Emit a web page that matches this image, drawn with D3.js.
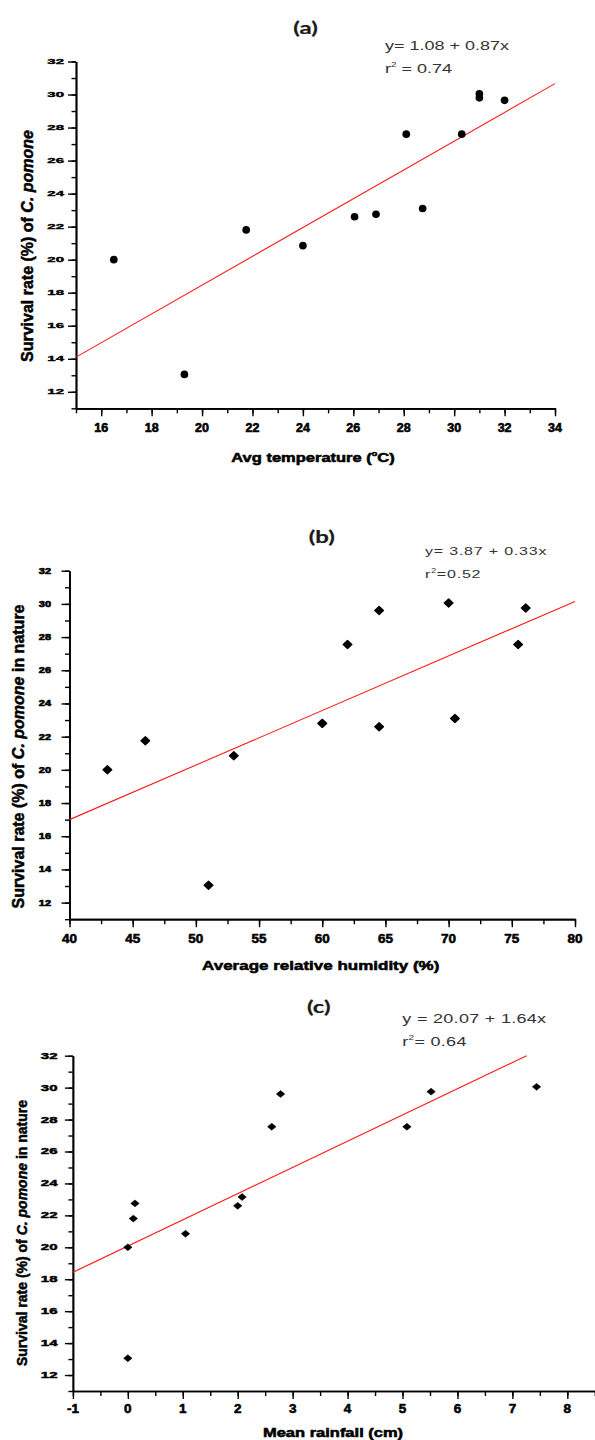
<!DOCTYPE html>
<html>
<head>
<meta charset="utf-8">
<script src="https://cdn.jsdelivr.net/npm/d3@7"></script>
<style>
  html, body { margin: 0; padding: 0; background: #fff; }
  svg { display: block; }
</style>
</head>
<body>
<svg id="chart" width="595" height="1440"></svg>
<script>
// ---------------- DATA ----------------
// (a) survival vs average temperature
const tempX = [16.5, 19.3, 21.75, 24.0, 26.05, 26.9, 28.1, 28.75, 30.3, 31.0, 31.0, 32.0];
const tempY = [20.0, 13.05, 21.8, 20.85, 22.6, 22.75, 27.6, 23.1, 27.6, 29.8, 30.05, 29.65];
// (b) survival vs average relative humidity
const humX = [43, 46, 51, 53, 60, 62, 64.5, 64.5, 70, 70.5, 75.5, 76.1];
const humY = [20.0, 21.75, 13.05, 20.85, 22.8, 27.55, 22.6, 29.6, 30.05, 23.1, 27.55, 29.75];
// (c) survival vs mean rainfall
const rainX = [0, 0, 0.1, 0.13, 1.05, 2.0, 2.08, 2.62, 2.78, 5.08, 5.52, 7.44];
const rainY = [20.0, 13.05, 21.8, 22.75, 20.85, 22.6, 23.15, 27.55, 29.6, 27.55, 29.75, 30.05];

// fitted regression line end points
const fitTempX = [15, 34],   fitTempY = [14.1, 30.66];
const fitHumX  = [40, 80],   fitHumY  = [17.0, 30.15];
const fitRainX = [-1, 7.26], fitRainY = [18.43, 32.0];

// tick labels
const survivalTicks = [12, 14, 16, 18, 20, 22, 24, 26, 28, 30, 32];
const tempTicks = [16, 18, 20, 22, 24, 26, 28, 30, 32, 34];
const humTicks  = [40, 45, 50, 55, 60, 65, 70, 75, 80];
const rainTicks = [-1, 0, 1, 2, 3, 4, 5, 6, 7, 8];

// texts
const panelTitles = ["(a)", "(b)", "(c)"];
const equations = ["y= 1.08 + 0.87x", "y=  3.87 + 0.33x", "y = 20.07 + 1.64x"];
const r2Texts = [" = 0.74", "=0.52", "= 0.64"];
const xTitles = ["Avg temperature (", "Average relative humidity (%)", "Mean rainfall (cm)"];
const yTitleStart = "Survival rate (%) of ";
const yTitleSpecies = "C. pomone";
const yTitleEnds = ["", " in nature", " in nature"];

// ---------------- DRAWING ----------------
const FONT = "'Liberation Sans', Arial, Helvetica, sans-serif";
const TITLE_FONT = "Lato, 'Open Sans', sans-serif";
const svg = d3.select("#chart");

function diamondType(hw, hh) {
  return { draw(ctx) { ctx.moveTo(0, -hh); ctx.lineTo(hw, 0); ctx.lineTo(0, hh); ctx.lineTo(-hw, 0); ctx.closePath(); } };
}

function sqText(parent, x, y, size, k, anchor, weight, fill, family) {
  return parent.append("text")
    .attr("transform", `translate(${x},${y}) scale(1,${k})`)
    .attr("text-anchor", anchor)
    .attr("font-family", family || FONT)
    .attr("font-size", size)
    .attr("font-weight", weight)
    .attr("fill", fill);
}
function heavy(sel, w) {
  return sel.attr("stroke", "#000").attr("stroke-width", w).attr("stroke-linejoin", "round");
}

const panels = [
  { xs: tempX, ys: tempY, fx: fitTempX, fy: fitTempY, xDomain: [15, 34], xTicks: tempTicks, xMinor: 1,
    xRange: [76, 555], yRange: [408.3, 61.5],
    symbol: d3.symbolCircle, symSize: 46, symStroke: 0,
    titlePos: [305.5, 34], eqPos: [385, 50], r2Pos: [385, 73.3], eqSize: 18, eqSpacing: 0,
    yLabR: 64, yLabSize: 15, yLabK: 0.5,
    xLabBase: 431.5, xLabSize: 12.5, xLabK: 1.0,
    xTitleX: 313, xTitleBase: 462, xTitleSize: 16.5, xTitleK: 0.75,
    yTitleX: 27, yTitleY: 246, yTitleSize: 16 },
  { xs: humX, ys: humY, fx: fitHumX, fy: fitHumY, xDomain: [40, 80], xTicks: humTicks, xMinor: 2.5,
    xRange: [69.5, 575], yRange: [919.2, 570.7],
    symbol: diamondType(4.3, 4.0), symSize: 0, symStroke: 1.4,
    titlePos: [321.7, 543], eqPos: [425, 555], r2Pos: [425, 578.3], eqSize: 16, eqSpacing: 0.8,
    yLabR: 51, yLabSize: 11, yLabK: 0.75,
    xLabBase: 942.7, xLabSize: 13.5, xLabK: 0.9,
    xTitleX: 320.7, xTitleBase: 970, xTitleSize: 17, xTitleK: 0.75,
    yTitleX: 18.3, yTitleY: 756.5, yTitleSize: 16 },
  { xs: rainX, ys: rainY, fx: fitRainX, fy: fitRainY, xDomain: [-1, 8.5], xTicks: rainTicks, xMinor: 0.5,
    xRange: [72.9, 594.8], yRange: [1391, 1055.7],
    symbol: diamondType(4.2, 3.4), symSize: 0, symStroke: 0.6,
    titlePos: [318.7, 1013], eqPos: [402.3, 1023.3], r2Pos: [402.3, 1046], eqSize: 18, eqSpacing: 0.3,
    yLabR: 57.5, yLabSize: 15, yLabK: 0.55,
    xLabBase: 1412.7, xLabSize: 13.5, xLabK: 1.0,
    xTitleX: 333, xTitleBase: 1437, xTitleSize: 16.5, xTitleK: 0.75,
    yTitleX: 21.7, yTitleY: 1233, yTitleSize: 14 }
];

panels.forEach((p, i) => {
  const g = svg.append("g");
  const x = d3.scaleLinear().domain(p.xDomain).range(p.xRange);
  const y = d3.scaleLinear().domain([11, 32]).range(p.yRange);

  // minor ticks
  const xMinorVals = d3.range(p.xDomain[0], p.xDomain[1] + 1e-9, p.xMinor);
  const yMinorVals = d3.range(11, 32 + 1e-9, 1);
  const gxMinor = g.append("g").attr("transform", `translate(0,${p.yRange[0]})`)
    .call(d3.axisBottom(x).tickValues(xMinorVals).tickFormat("").tickSize(5).tickSizeOuter(0));
  const gyMinor = g.append("g").attr("transform", `translate(${p.xRange[0]},0)`)
    .call(d3.axisLeft(y).tickValues(yMinorVals).tickFormat("").tickSize(4.5).tickSizeOuter(0));
  // major ticks
  const gx = g.append("g").attr("transform", `translate(0,${p.yRange[0]})`)
    .call(d3.axisBottom(x).tickValues(p.xTicks).tickFormat("").tickSize(8).tickSizeOuter(0));
  const gy = g.append("g").attr("transform", `translate(${p.xRange[0]},0)`)
    .call(d3.axisLeft(y).tickValues(survivalTicks).tickFormat("").tickSize(8).tickSizeOuter(0));
  [gxMinor, gyMinor, gx, gy].forEach(a => {
    a.selectAll("line").attr("stroke", "#000").attr("stroke-width", 1.4);
    a.select(".domain").attr("stroke", "#000").attr("stroke-width", 1.7);
  });

  // tick labels
  p.xTicks.forEach(v => {
    heavy(sqText(g, x(v), p.xLabBase, p.xLabSize, p.xLabK, "middle", "bold", "#000"), 0.6).text(v);
  });
  survivalTicks.forEach(v => {
    const h = 0.716 * p.yLabSize * p.yLabK;
    heavy(sqText(g, p.yLabR, y(v) + h / 2, p.yLabSize, p.yLabK, "end", "bold", "#000"), 0.8).text(v);
  });

  // fit line
  const fitPts = p.fx.map((d, j) => [d, p.fy[j]]);
  g.append("path").datum(fitPts)
    .attr("d", d3.line().x(d => x(d[0])).y(d => y(d[1])))
    .attr("fill", "none").attr("stroke", "#ff1a1a").attr("stroke-width", 1.1);

  // points
  const pts = p.xs.map((d, j) => [d, p.ys[j]]);
  g.selectAll("path.pt").data(pts).enter().append("path").attr("class", "pt")
    .attr("transform", d => `translate(${x(d[0])},${y(d[1])})`)
    .attr("d", d3.symbol().type(p.symbol).size(p.symSize || 64))
    .attr("fill", "#000")
    .attr("stroke", p.symStroke ? "#000" : "none")
    .attr("stroke-width", p.symStroke)
    .attr("stroke-linejoin", "round");

  // panel title
  heavy(sqText(g, p.titlePos[0], p.titlePos[1], 24, 0.72, "middle", "bold", "#1c1a16", TITLE_FONT), 0.3)
    .attr("stroke", "#1c1a16").text(panelTitles[i]);

  // equation + r^2
  sqText(g, p.eqPos[0], p.eqPos[1], p.eqSize, 0.72, "start", "normal", "#333")
    .attr("letter-spacing", p.eqSpacing).text(equations[i]);
  const r2 = sqText(g, p.r2Pos[0], p.r2Pos[1], p.eqSize, 0.72, "start", "normal", "#333")
    .attr("letter-spacing", p.eqSpacing);
  r2.append("tspan").text("r");
  r2.append("tspan").attr("font-size", p.eqSize * 0.55).attr("dy", -p.eqSize * 0.45).text("2");
  r2.append("tspan").attr("dy", p.eqSize * 0.45).text(r2Texts[i]);

  // x title
  const xt = heavy(sqText(g, p.xTitleX, p.xTitleBase, p.xTitleSize, p.xTitleK, "middle", "bold", "#000"), 0.7);
  xt.append("tspan").text(xTitles[i]);
  if (i === 0) {
    xt.append("tspan").attr("font-size", p.xTitleSize * 0.55).attr("dy", -p.xTitleSize * 0.45).text("o");
    xt.append("tspan").attr("dy", p.xTitleSize * 0.45).text("C)");
  }

  // y title
  const yt = g.append("text")
    .attr("transform", `translate(${p.yTitleX},${p.yTitleY}) rotate(-90)`)
    .attr("text-anchor", "middle").attr("dy", "0.35em")
    .attr("font-family", FONT).attr("font-size", p.yTitleSize).attr("font-weight", "bold").attr("fill", "#000");
  heavy(yt, 0.5);
  yt.append("tspan").text(yTitleStart);
  yt.append("tspan").attr("font-style", "italic").text(yTitleSpecies);
  yt.append("tspan").text(yTitleEnds[i]);
});
</script>
</body>
</html>
